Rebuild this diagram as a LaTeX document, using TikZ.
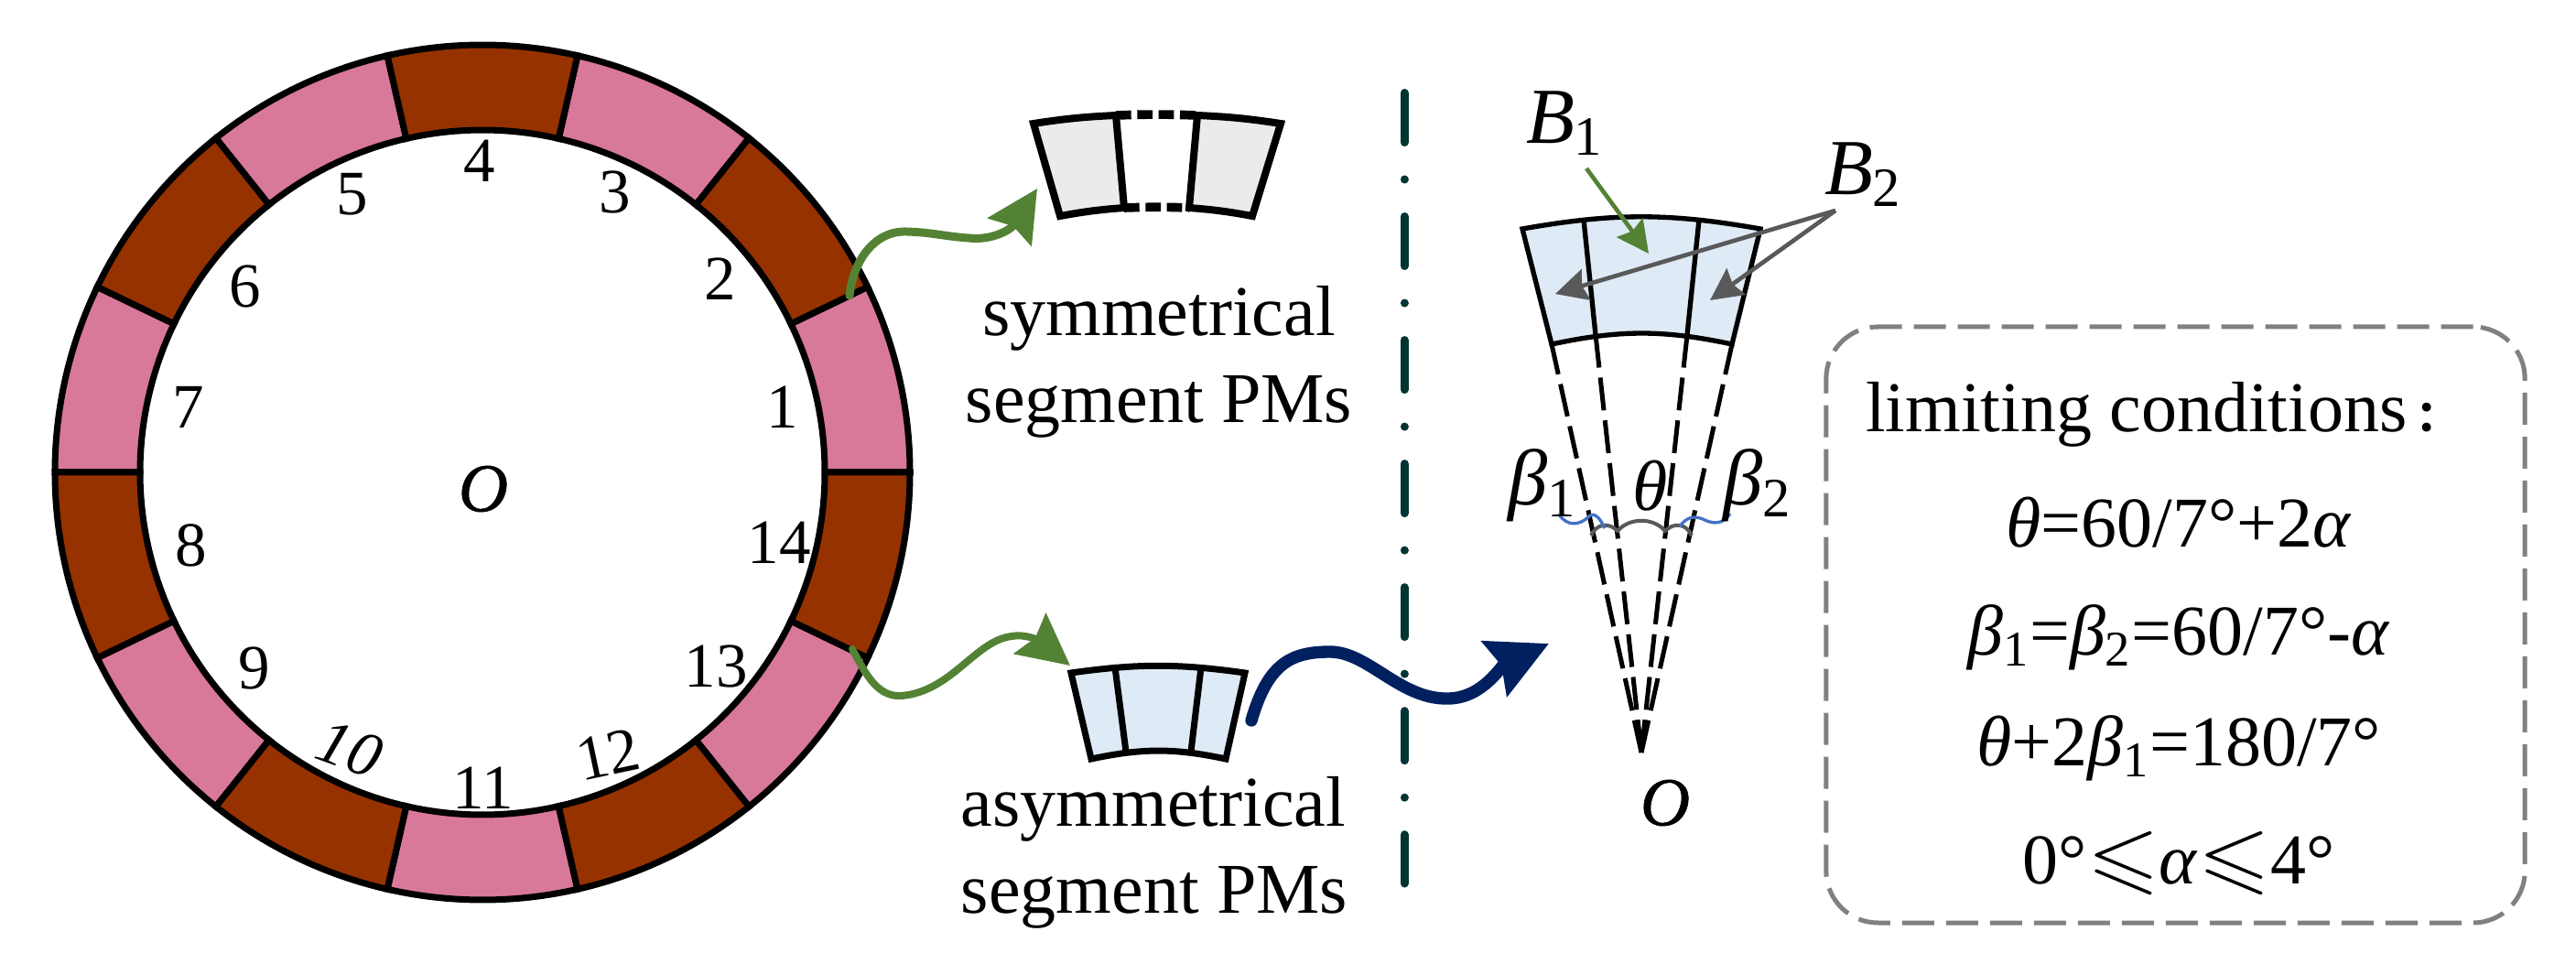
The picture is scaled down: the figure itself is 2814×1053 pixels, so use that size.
\documentclass[tikz,border=0pt]{standalone}
\usepackage{amssymb}
\usepackage{fontspec}
\setmainfont{Liberation Serif}
\newfontfamily\cjk{Noto Sans CJK SC}
\newfontface\originface[FakeBold=0.7]{Liberation Serif Italic}
\usetikzlibrary{arrows.meta}
\definecolor{pmpink}{HTML}{D8789B}
\definecolor{pmbrown}{HTML}{963200}
\definecolor{pmgrey}{HTML}{EBEBEB}
\definecolor{pmblue}{HTML}{DEEAF6}
\definecolor{arrowgreen}{HTML}{548235}
\definecolor{arrowblue}{HTML}{002060}
\definecolor{arrowgrey}{HTML}{595959}
\definecolor{boxgrey}{HTML}{808080}
\definecolor{splitline}{HTML}{033434}
\definecolor{wavyblue}{HTML}{4472C4}
\tikzset{
  label/.style = {inner sep=0pt, outer sep=0pt, font=\fontsize{23.4}{28}\selectfont, anchor=base},
  big/.style = {inner sep=0pt, outer sep=0pt, font=\fontsize{26}{30}\selectfont, anchor=base west},
  num/.style = {inner sep=0pt, outer sep=0pt, font=\fontsize{20.7}{24}\selectfont},
  centre/.style = {inner sep=0pt, outer sep=0pt, font=\originface\fontsize{22.5}{26}\selectfont},
  pm/.style = {draw=black, line width=2.1pt, line join=miter},
  ray/.style = {draw=black, line width=1.5pt, dash pattern=on 10.8pt off 3.3pt},
  greenarrow/.style = {draw=arrowgreen, line cap=round, -{Stealth[length=16.8pt,width=16.8pt,inset=2.2pt]}},
  smallarrow/.style = {line width=1.4pt, -{Stealth[length=10.5pt,width=10.5pt,inset=1.4pt]}},
}
\begin{document}
\begin{tikzpicture}[x=0.3pt, y=0.3pt]
  \useasboundingbox (0,0) rectangle (2814,-1053);

  % ring
  \begin{scope}[shift={(527,-516)}]
    \foreach \i in {0,2,...,12}
      \filldraw[pm, fill=pmpink] ({\i*180/7}:112.2pt) -- ({\i*180/7}:140.1pt) arc ({\i*180/7}:{(\i+1)*180/7}:140.1pt) -- ({(\i+1)*180/7}:112.2pt) arc ({(\i+1)*180/7}:{\i*180/7}:112.2pt) -- cycle;
    \foreach \i in {1,3,...,13}
      \filldraw[pm, fill=pmbrown] ({\i*180/7}:112.2pt) -- ({\i*180/7}:140.1pt) arc ({\i*180/7}:{(\i+1)*180/7}:140.1pt) -- ({(\i+1)*180/7}:112.2pt) arc ({(\i+1)*180/7}:{\i*180/7}:112.2pt) -- cycle;
  \end{scope}

  \foreach \n/\px/\py in {1/855/445, 2/787/305, 3/672/210, 4/524/176, 5/385/212, 6/268/313, 7/206/445, 8/209/596, 9/278/730, 11/528/861, 13/782/728, 14/851/593}
    \node[num] (num\n) at (\px,-\py) {\n};
  \node[num, rotate=-20] (num10) at (382,-818) {\textit{10}};
  \node[num, rotate=12] (num12) at (664,-824) {12};
  \node[centre] (ringO) at (528,-534) {O};

  % symmetrical segment
  \coordinate (sTL) at (1129,-135);
  \coordinate (sT1) at (1219,-126);
  \coordinate (sT2) at (1308,-126);
  \coordinate (sTR) at (1399,-135);
  \coordinate (sBL) at (1158,-236);
  \coordinate (sB1) at (1228,-227);
  \coordinate (sB2) at (1299,-227);
  \coordinate (sBR) at (1368,-236);
  \filldraw[pm, line width=2.4pt, fill=pmgrey] (sTL) to[bend left=3] (sT1) -- (sB1) to[bend right=3] (sBL) -- cycle;
  \filldraw[pm, line width=2.4pt, fill=pmgrey] (sT2) to[bend left=3] (sTR) -- (sBR) to[bend right=3] (sB2) -- cycle;
  \draw[pm, line width=2.9pt, dash pattern=on 5pt off 2pt] (sT1) to[bend left=2] (sT2);
  \draw[pm, line width=2.9pt, dash pattern=on 5pt off 2pt] (sB1) to[bend left=2] (sB2);
  \node[label] (symA) at (1266,-367) {symmetrical};
  \node[label] (symB) at (1266,-462) {segment PMs};

  % asymmetrical segment
  \coordinate (aTL) at (1170,-735);
  \coordinate (aT1) at (1218,-729);
  \coordinate (aT2) at (1312,-729);
  \coordinate (aTR) at (1360,-735);
  \coordinate (aBL) at (1192,-829);
  \coordinate (aB1) at (1230,-821);
  \coordinate (aB2) at (1301,-821);
  \coordinate (aBR) at (1339,-829);
  \filldraw[pm, fill=pmblue] (aTL) to[bend left=8] (aTR) -- (aBR) to[bend right=12] (aBL) -- cycle;
  \draw[pm] (aT1) -- (aB1);
  \draw[pm] (aT2) -- (aB2);
  \node[label] (asyA) at (1260,-902) {asymmetrical};
  \node[label] (asyB) at (1261,-997) {segment PMs};

  % centre line
  \coordinate (splitTop) at (1534,-101.5);
  \coordinate (splitEnd) at (1534,-965);
  \draw[splitline, line width=2.7pt, line cap=round, dash pattern=on 16.2pt off 12.15pt on 0.01pt off 12.15pt] (splitTop) -- (splitEnd);

  % arrows
  \coordinate (wireA) at (928,-323);
  \coordinate (tipA) at (1133,-206);
  \coordinate (wireB) at (931,-709);
  \coordinate (tipB) at (1169,-727);
  \coordinate (flowStart) at (1367,-787);
  \coordinate (flowTip) at (1692,-703);
  \draw[greenarrow, line width=2.7pt] (wireA) .. controls (932,-285) and (955,-252) .. (990,-253) .. controls (1020,-254) and (1030,-258) .. (1058,-260) .. controls (1085,-263) and (1105,-250) .. (tipA);
  \draw[greenarrow, line width=2.4pt] (wireB) .. controls (945,-735) and (958,-762) .. (985,-760) .. controls (1040,-755) and (1065,-700) .. (1105,-695) .. controls (1120,-692) and (1135,-700) .. (tipB);
  \draw[draw=arrowblue, line width=4pt, line cap=round, -{Stealth[length=19.5pt,width=19.5pt,inset=2.4pt]}] (flowStart) .. controls (1385,-725) and (1410,-712) .. (1453,-712) .. controls (1495,-712) and (1530,-765) .. (1583,-763) .. controls (1620,-762) and (1640,-727) .. (flowTip);

  % large segment
  \coordinate (lTL) at (1663,-250);
  \coordinate (lT1) at (1730,-240);
  \coordinate (lT2) at (1856,-240);
  \coordinate (lTR) at (1923,-250);
  \coordinate (lBL) at (1695,-376);
  \coordinate (lB1) at (1743,-366);
  \coordinate (lB2) at (1843,-366);
  \coordinate (lBR) at (1892,-376);
  \coordinate (apex) at (1793,-822);
  \filldraw[pm, line width=1.6pt, fill=pmblue] (lTL) to[bend left=10] (lTR) -- (lBR) to[bend right=12] (lBL) -- cycle;
  \draw[pm, line width=1.6pt] (lT1) -- (lB1);
  \draw[pm, line width=1.6pt] (lT2) -- (lB2);
  \foreach \e in {lBL,lB1,lB2,lBR}
    \draw[ray] (apex) -- (\e);
  \node[centre] (apexO) at (1819,-877) {O};

  % angle marks
  \draw[draw=arrowgrey, line width=1.2pt] (1738,-585) .. controls (1744,-572) and (1757,-570) .. (1767,-580) .. controls (1780,-565) and (1806,-565) .. (1819,-580) .. controls (1829,-570) and (1842,-572) .. (1848,-585);
  \draw[draw=wavyblue, line width=1pt] (1703,-562) .. controls (1712,-575) and (1725,-575) .. (1737,-563) .. controls (1742,-560) and (1748,-566) .. (1753,-577);
  \draw[draw=wavyblue, line width=1pt] (1835,-575) .. controls (1842,-565) and (1850,-563) .. (1860,-567) .. controls (1872,-573) and (1882,-573) .. (1890,-561);
  \node[big] (beta1) at (1647,-552) {\textit{β}\textsubscript{1}};
  \node[label, font=\fontsize{23.4}{28}\selectfont\itshape] (thetaL) at (1803,-557) {θ};
  \node[big] (beta2) at (1882,-552) {\textit{β}\textsubscript{2}};

  % B labels
  \node[big] (b1) at (1667,-157) {\textit{B}\textsubscript{1}};
  \node[big] (b2) at (1993,-213) {\textit{B}\textsubscript{2}};
  \coordinate (b1from) at (1733,-184);
  \coordinate (b1tip) at (1801,-277);
  \coordinate (b2from) at (2005,-230);
  \coordinate (b2tipL) at (1699,-321);
  \coordinate (b2tipR) at (1868,-328);
  \draw[smallarrow, draw=arrowgreen, fill=arrowgreen] (b1from) -- (b1tip);
  \draw[smallarrow, draw=arrowgrey, fill=arrowgrey] (b2from) -- (b2tipL);
  \draw[smallarrow, draw=arrowgrey, fill=arrowgrey] (b2from) -- (b2tipR);

  % conditions
  \node[draw=boxgrey, line width=1.5pt, rounded corners=17pt, dash pattern=on 10.5pt off 3.9pt, minimum width=229pt, minimum height=195.3pt, inner sep=0pt] (condBox) at (2376.5,-682.5) {};
  \node[label, anchor=base west] (cond0) at (2038,-472) {limiting conditions\hspace{3pt}{\cjk\bfseries\fontsize{14}{16}\selectfont：}};
  \node[label] (cond1) at (2380,-597) {\textit{θ}=60/7°+2\textit{α}};
  \node[label] (cond2) at (2380,-715.5) {\textit{β}\textsubscript{1}=\textit{β}\textsubscript{2}=60/7°-\textit{α}};
  \node[label] (cond3) at (2380,-836.5) {\textit{θ}+2\textit{β}\textsubscript{1}=180/7°};
  \node[label] (cond4) at (2380,-965) {0°\scalebox{1.3}[1.15]{$\leqslant$}\textit{α}\scalebox{1.3}[1.15]{$\leqslant$}4°};
\end{tikzpicture}
\end{document}
